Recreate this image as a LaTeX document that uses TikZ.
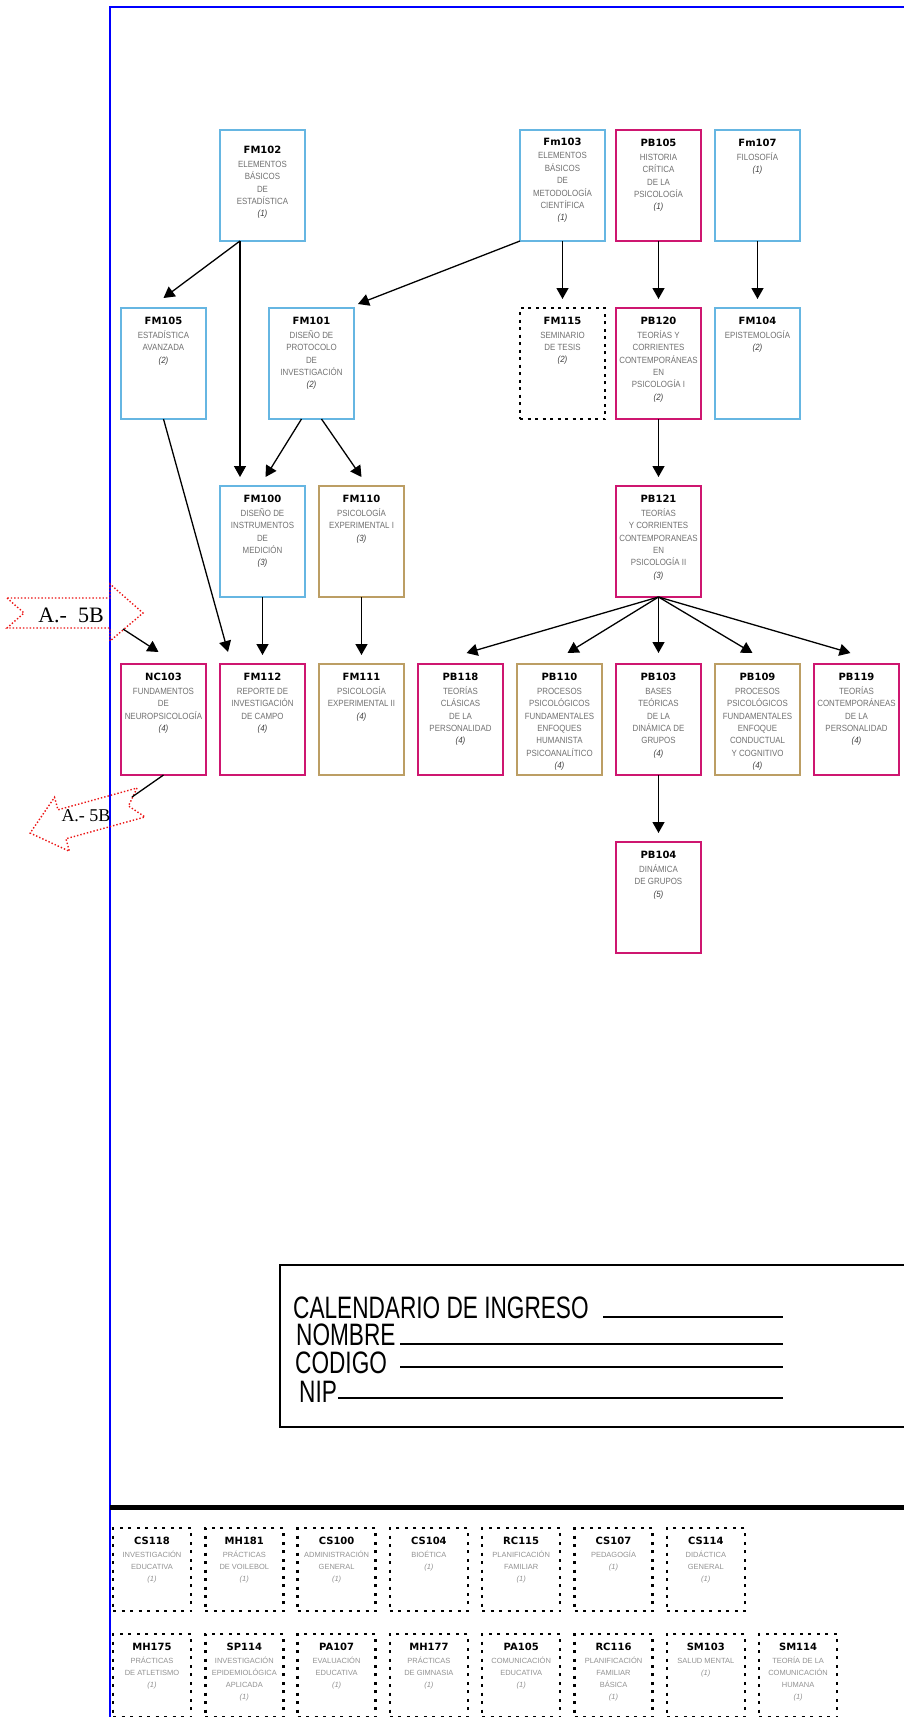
\documentclass[tikz,border=0pt]{standalone}
\usepackage{fontspec}
\setmainfont{Liberation Sans}
\newfontfamily\clave{DejaVu Sans}
\newfontfamily\romana{Liberation Serif}
\newfontfamily\angosta[FakeStretch=0.73]{Liberation Sans}
\newfontfamily\estrecha[FakeStretch=0.88]{Liberation Sans}
\usepackage{xcolor}
\usepackage{tikz}
\usetikzlibrary{arrows.meta,positioning,calc}

\definecolor{celeste}{RGB}{102,182,226}
\definecolor{fucsia}{RGB}{206,22,112}
\definecolor{ocre}{RGB}{188,158,100}
\definecolor{gristxt}{RGB}{112,112,112}
\definecolor{grisclaro}{RGB}{145,145,145}
\definecolor{rojopunto}{RGB}{235,20,20}
\definecolor{azulmarco}{RGB}{0,0,255}

% contenido de una ficha: [espacio arriba]{clave}{nombre}{semestre}
\newcommand{\materia}[4][9.5pt]{\parbox[c][111pt][t]{85pt}{\centering\estrecha\fontsize{9}{12.4}\selectfont\vspace*{#1}%
  {\clave\bfseries\fontsize{10}{12}\selectfont #2}\\[1pt]%
  {\color{gristxt}#3}\\%
  {\itshape\color{gristxt!55!black}(#4)}}}
\newcommand{\optativa}[3]{\parbox[c][83pt][t]{78pt}{\centering\fontsize{7.5}{12}\selectfont\vspace*{9.3pt}%
  {\clave\bfseries\fontsize{10}{12}\selectfont #1}\\[1pt]%
  {\color{grisclaro}#2}\\%
  {\itshape\color{grisclaro}(#3)}}}

\begin{document}
\begin{tikzpicture}[x=1pt, y=-1pt,
  box/.style={draw, line width=2.8pt, minimum width=85pt, minimum height=111pt, inner sep=0pt, outer sep=0pt},
  azulbox/.style={box, draw=celeste},
  rosabox/.style={box, draw=fucsia},
  ocrebox/.style={box, draw=ocre},
  tesisbox/.style={box, draw=black, line width=2.4pt, dash pattern=on 3pt off 4.5pt},
  optbox/.style={box, draw=black, line width=2.4pt, dash pattern=on 3pt off 5.5pt, minimum width=78pt, minimum height=83pt},
  flecha/.style={->, line width=1.3pt},
  senal/.style={draw=rojopunto, line width=1.4pt, dash pattern=on 1.4pt off 2pt},
  forma/.style={font=\angosta\fontsize{31}{31}\selectfont, inner sep=0pt, text height=22pt, text depth=0pt, anchor=base west},
  >={Triangle[length=11pt,width=12pt]}]
\useasboundingbox (0,0) rectangle (903,1717);

% marco de la hoja
\draw[azulmarco, line width=2.5pt] (110,1725) -- (110,7) -- (910,7);

% cuarto renglon
\node[rosabox, anchor=north west] (nc103) at (121,664) {\materia{NC103}{FUNDAMENTOS\\DE\\NEUROPSICOLOGÍA}{4}};
\node[rosabox, right=14pt of nc103] (fm112) {\materia{FM112}{REPORTE DE\\INVESTIGACIÓN\\DE CAMPO}{4}};
\node[ocrebox, right=14pt of fm112] (fm111) {\materia{FM111}{PSICOLOGÍA\\EXPERIMENTAL II}{4}};
\node[rosabox, right=14pt of fm111] (pb118) {\materia{PB118}{TEORÍAS\\CLÁSICAS\\DE LA\\PERSONALIDAD}{4}};
\node[ocrebox, right=14pt of pb118] (pb110) {\materia{PB110}{PROCESOS\\PSICOLÓGICOS\\FUNDAMENTALES\\ENFOQUES\\HUMANISTA\\PSICOANALÍTICO}{4}};
\node[rosabox, right=14pt of pb110] (pb103) {\materia{PB103}{BASES\\TEÓRICAS\\DE LA\\DINÁMICA DE\\GRUPOS}{4}};
\node[ocrebox, right=14pt of pb103] (pb109) {\materia{PB109}{PROCESOS\\PSICOLÓGICOS\\FUNDAMENTALES\\ENFOQUE\\CONDUCTUAL\\Y COGNITIVO}{4}};
\node[rosabox, right=14pt of pb109] (pb119) {\materia{PB119}{TEORÍAS\\CONTEMPORÁNEAS\\DE LA\\PERSONALIDAD}{4}};

% tercer renglon
\node[azulbox, above=67pt of fm112] (fm100) {\materia{FM100}{DISEÑO DE\\INSTRUMENTOS\\DE\\MEDICIÓN}{3}};
\node[ocrebox, above=67pt of fm111] (fm110) {\materia{FM110}{PSICOLOGÍA\\EXPERIMENTAL I}{3}};
\node[rosabox, above=67pt of pb103] (pb121) {\materia{PB121}{TEORÍAS\\Y CORRIENTES\\CONTEMPORANEAS\\EN\\PSICOLOGÍA II}{3}};

% segundo renglon
\node[azulbox, above=245pt of nc103] (fm105) {\materia{FM105}{ESTADÍSTICA\\AVANZADA}{2}};
\node[azulbox, right=63pt of fm105] (fm101) {\materia{FM101}{DISEÑO DE\\PROTOCOLO\\DE\\INVESTIGACIÓN}{2}};
\node[rosabox, above=67pt of pb121] (pb120) {\materia{PB120}{TEORÍAS Y\\CORRIENTES\\CONTEMPORÁNEAS\\EN\\PSICOLOGÍA I}{2}};
\node[tesisbox, left=11pt of pb120] (fm115) {\materia{FM115}{SEMINARIO\\DE TESIS}{2}};
\node[azulbox, right=14pt of pb120] (fm104) {\materia{FM104}{EPISTEMOLOGÍA}{2}};

% primer renglon
\node[azulbox, above=245pt of fm100] (fm102) {\materia[16.5pt]{FM102}{ELEMENTOS\\BÁSICOS\\DE\\ESTADÍSTICA}{1}};
\node[azulbox, above=67pt of fm115] (fm103) {\materia[8pt]{Fm103}{ELEMENTOS\\BÁSICOS\\DE\\METODOLOGÍA\\CIENTÍFICA}{1}};
\node[rosabox, above=67pt of pb120] (pb105) {\materia{PB105}{HISTORIA\\CRÍTICA\\DE LA\\PSICOLOGÍA}{1}};
\node[azulbox, above=67pt of fm104] (fm107) {\materia{Fm107}{FILOSOFÍA}{1}};

% quinto renglon
\node[rosabox, below=67pt of pb103] (pb104) {\materia{PB104}{DINÁMICA\\DE GRUPOS}{5}};

% seriacion
\draw[flecha] ([xshift=20pt]fm102.south west) -- ([yshift=10pt]fm105.north);
\draw[flecha] ([xshift=20pt]fm102.south west) -- ([xshift=20pt,yshift=9pt]fm100.north west);
\draw[flecha] (fm103.south west) -- ([xshift=4pt,yshift=4pt]fm101.north east);
\draw[flecha] (fm103.south) -- ([yshift=9pt]fm115.north);
\draw[flecha] (pb105.south) -- ([yshift=9pt]pb120.north);
\draw[flecha] (fm107.south) -- ([yshift=9pt]fm104.north);
\draw[flecha] ([xshift=-10pt]fm101.south) -- ([xshift=3pt,yshift=9pt]fm100.north);
\draw[flecha] ([xshift=10pt]fm101.south) -- ([yshift=9pt]fm110.north);
\draw[flecha] (fm105.south) -- ([xshift=8pt,yshift=12pt]fm112.north west);
\draw[flecha] (fm100.south) -- ([yshift=9pt]fm112.north);
\draw[flecha] (fm110.south) -- ([yshift=9pt]fm111.north);
\draw[flecha] (pb120.south) -- ([yshift=9pt]pb121.north);
\foreach \dest/\dx in {pb118/6pt, pb110/8pt, pb103/0pt, pb109/-5pt, pb119/-6pt}
  \draw[flecha] (pb121.south) -- ([xshift=\dx,yshift=11pt]\dest.north);
\draw[flecha] (pb103.south) -- ([yshift=9pt]pb104.north);

% A.- 5B (entrada y salida)
\draw[senal] (7,598) -- (24,613) -- (7,628) -- (110,628) -- (110,641) -- (143,613) -- (110,584) -- (110,598) -- cycle;
\node[font=\romana\fontsize{22}{22}\selectfont, inner sep=0pt] (a5bent) at (71,615) {A.-\ \ 5B};
\coordinate (entrada) at (123,629);
\draw[flecha] (entrada) -- ([xshift=-5pt,yshift=12pt]nc103.north);
\begin{scope}[shift={(141,802.5)}, rotate=15.4]
  \draw[senal] (0,-15) -- (-13,0) -- (0,15) -- (-82,15) -- (-82,28) -- (-115,0) -- (-82,-28) -- (-82,-15) -- cycle;
\end{scope}
\node[font=\romana\fontsize{18}{18}\selectfont, inner sep=0pt] (a5bsal) at (86,816) {A.-\ 5B};
\coordinate (salida) at (132,797);
\draw[line width=1.3pt] (nc103.south) -- (salida);

% datos del alumno
\draw[line width=2.2pt] (280,1265) rectangle (915,1427);
\node[forma] (calend) at (293,1318) {CALENDARIO DE INGRESO};
\node[forma] (nombre) at (296,1345) {NOMBRE};
\node[forma] (codigo) at (295,1373) {CODIGO};
\node[forma] (nip) at (299,1402) {NIP};
\draw[line width=1.8pt] (603,1317) -- (783,1317);
\draw[line width=1.8pt] (400,1344) -- (783,1344);
\draw[line width=1.8pt] (400,1367) -- (783,1367);
\draw[line width=1.8pt] (338,1398) -- (783,1398);

\draw[line width=5pt] (110,1507) -- (910,1507);

% optativas
\node[optbox, anchor=north west] (cs118) at (113,1528) {\optativa{CS118}{INVESTIGACIÓN\\EDUCATIVA}{1}};
\node[optbox, right=14.3pt of cs118] (mh181) {\optativa{MH181}{PRÁCTICAS\\DE VOILEBOL}{1}};
\node[optbox, right=14.3pt of mh181] (cs100) {\optativa{CS100}{ADMINISTRACIÓN\\GENERAL}{1}};
\node[optbox, right=14.3pt of cs100] (cs104) {\optativa{CS104}{BIOÉTICA}{1}};
\node[optbox, right=14.3pt of cs104] (rc115) {\optativa{RC115}{PLANIFICACIÓN\\FAMILIAR}{1}};
\node[optbox, right=14.3pt of rc115] (cs107) {\optativa{CS107}{PEDAGOGÍA}{1}};
\node[optbox, right=14.3pt of cs107] (cs114) {\optativa{CS114}{DIDÁCTICA\\GENERAL}{1}};
\node[optbox, below=23pt of cs118] (mh175) {\optativa{MH175}{PRÁCTICAS\\DE ATLETISMO}{1}};
\node[optbox, right=14.3pt of mh175] (sp114) {\optativa{SP114}{INVESTIGACIÓN\\EPIDEMIOLÓGICA\\APLICADA}{1}};
\node[optbox, right=14.3pt of sp114] (pa107) {\optativa{PA107}{EVALUACIÓN\\EDUCATIVA}{1}};
\node[optbox, right=14.3pt of pa107] (mh177) {\optativa{MH177}{PRÁCTICAS\\DE GIMNASIA}{1}};
\node[optbox, right=14.3pt of mh177] (pa105) {\optativa{PA105}{COMUNICACIÓN\\EDUCATIVA}{1}};
\node[optbox, right=14.3pt of pa105] (rc116) {\optativa{RC116}{PLANIFICACIÓN\\FAMILIAR\\BÁSICA}{1}};
\node[optbox, right=14.3pt of rc116] (sm103) {\optativa{SM103}{SALUD MENTAL}{1}};
\node[optbox, right=14.3pt of sm103] (sm114) {\optativa{SM114}{TEORÍA DE LA\\COMUNICACIÓN\\HUMANA}{1}};
\end{tikzpicture}
\end{document}
